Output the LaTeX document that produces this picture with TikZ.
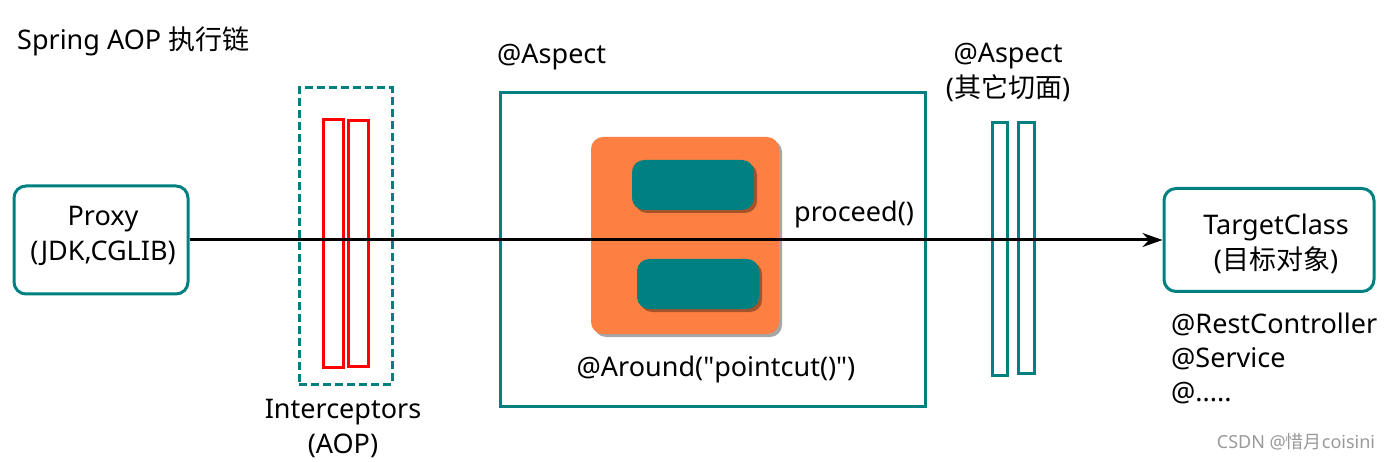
\documentclass[tikz,border=0pt]{standalone}
\usepackage{fontspec}
\setmainfont{Noto Sans}
\newfontfamily\cjk{Noto Sans CJK SC}
\font\qf="Noto Sans" at 27pt
\usetikzlibrary{shadows,arrows.meta}
\definecolor{tealc}{HTML}{008080}
\definecolor{orangec}{HTML}{FD8042}
\definecolor{redc}{HTML}{FF0000}
\tikzset{
  txt/.style={font=\fontsize{27}{35}\selectfont, inner sep=0pt, align=center},
  rbox/.style={draw=tealc, line width=3pt, rounded corners=12pt, inner sep=0pt},
  sqbox/.style={draw=tealc, line width=3pt, inner sep=0pt},
  redbar/.style={draw=redc, line width=3pt, inner sep=0pt},
  tealbar/.style={draw=tealc, line width=3pt, inner sep=0pt},
  shbox/.style={rounded corners=12pt, inner sep=0pt, drop shadow={shadow xshift=3pt, shadow yshift=-3pt, opacity=0.35, fill=black}},
}
\begin{document}
\begin{tikzpicture}[x=1pt,y=-1pt]
\useasboundingbox (0,0) rectangle (1397,462);
% title
\node[txt, anchor=west] (title) at (17,41) {Spring AOP {\cjk 执行链}};
% proxy
\node[rbox, minimum width=174pt, minimum height=108pt] (proxy) at (101,240) {};
\node[txt] (proxyt) at (103,236) {Proxy\\(JDK,CGLIB)};
% interceptors
\node[sqbox, dash pattern=on 8pt off 4pt, minimum width=93pt, minimum height=296pt] (icp) at (345.5,236) {};
\node[redbar, minimum width=20pt, minimum height=247pt] (r1) at (333,243.5) {};
\node[redbar, minimum width=20pt, minimum height=245pt] (r2) at (358,243.5) {};
\node[txt] (icpt) at (343,428) {Interceptors\\(AOP)};
% aspect
\node[txt, anchor=west] (asp) at (497,57) {@Aspect};
\node[sqbox, minimum width=425pt, minimum height=313pt] (aspbox) at (712.5,249.5) {};
\node[shbox, fill=orangec, minimum width=188pt, minimum height=197pt] (orng) at (685,235.5) {};
\node[shbox, fill=tealc, minimum width=122pt, minimum height=50pt] (t1) at (693,185) {};
\node[shbox, fill=tealc, minimum width=122pt, minimum height=50pt] (t2) at (698,284) {};
\node[txt, anchor=west] (proc) at (794,214) {proceed()};
\node[txt] (arnd) at (716,369) {@Around({\qf"}pointcut(){\qf"})};
% other aspects
\node[txt] (asp2) at (1008,72) {@Aspect\\({\cjk 其它切面})};
\node[tealbar, minimum width=15pt, minimum height=252pt] (b1) at (999.5,249) {};
\node[tealbar, minimum width=16pt, minimum height=250pt] (b2) at (1026,248) {};
% target
\node[rbox, minimum width=210pt, minimum height=103pt] (target) at (1269,240) {};
\node[txt] (targett) at (1276,244) {TargetClass\\({\cjk 目标对象})};
\node[txt, anchor=north west, align=left, font=\fontsize{27}{34}\selectfont] (anns) at (1171,313) {@RestController\\@Service\\@.....};
% watermark
\node[inner sep=0pt, text=black!40, font=\fontsize{18}{20}\selectfont] (wm) at (1296,442) {CSDN @{\cjk 惜月}coisini};
% main line
\draw[line width=3pt, -{Stealth[length=20pt, width=14pt]}] (proxy.east) -- (target.west);
\end{tikzpicture}
\end{document}
